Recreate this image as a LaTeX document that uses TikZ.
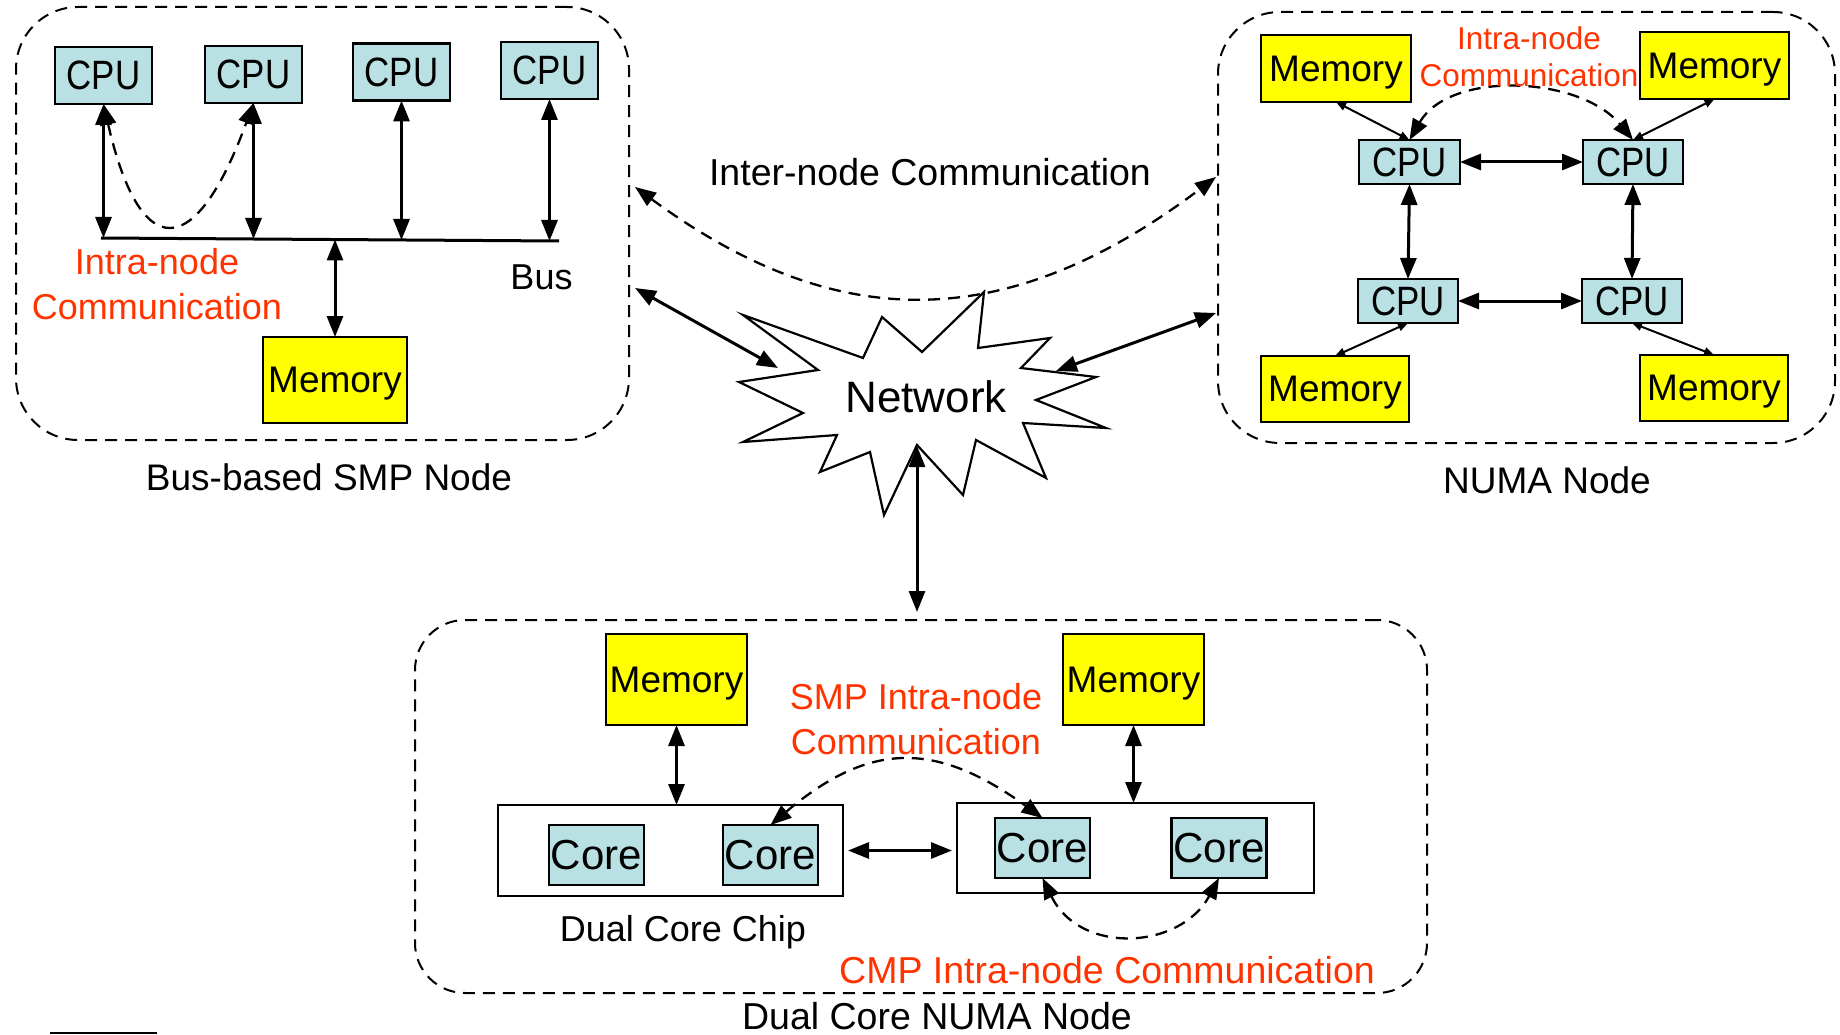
\documentclass[tikz,border=0pt]{standalone}
\usepackage{fontspec}
\setmainfont{Liberation Sans}
\newfontfamily\cpufont{Liberation Sans}[FakeStretch=0.85]
\usetikzlibrary{arrows.meta}
\definecolor{cpufill}{RGB}{185,224,227}
\definecolor{memfill}{RGB}{255,255,0}
\definecolor{commred}{RGB}{255,51,0}

\begin{document}
\begin{tikzpicture}[x=1pt,y=-1pt,
  every node/.style={inner sep=0pt, outer sep=0pt},
  unitbox/.style={draw, line width=2.5pt, inner sep=0pt, text depth=0pt},
  cpubox/.style={unitbox, fill=cpufill, font=\cpufont\fontsize{41}{41}\selectfont},
  membox/.style={unitbox, fill=memfill, font=\fontsize{37}{37}\selectfont},
  corebox/.style={unitbox, fill=cpufill, minimum width=95pt, minimum height=60pt, font=\fontsize{42}{42}\selectfont},
  chipbox/.style={draw, line width=2.5pt},
  groupbox/.style={draw, line width=2pt, dash pattern=on 12pt off 8pt, rounded corners=62pt},
  caption/.style={font=\fontsize{37}{37}\selectfont, text depth=0pt},
  redlabel/.style={text=commred, align=center},
  bigtip/.tip={Triangle[length=21pt,width=16pt]},
  smalltip/.tip={Triangle[length=10pt,width=8pt]},
  link/.style={line width=3pt, bigtip-bigtip},
  thinlink/.style={line width=2pt, smalltip-smalltip},
  commlink/.style={line width=2.3pt, dash pattern=on 12pt off 8pt, bigtip-bigtip},
]
\useasboundingbox (0,0) rectangle (1840,1035);

% ---------- Bus-based SMP node ----------
\node[groupbox, minimum width=613pt, minimum height=433pt] (smp) at (322.5,223.5) {};
\node[cpubox, minimum width=97pt, minimum height=57pt] (cpuA) at (103.5,75.5) {CPU};
\node[cpubox, minimum width=97pt, minimum height=57pt] (cpuB) at (253.5,74.5) {CPU};
\node[cpubox, minimum width=97pt, minimum height=57pt] (cpuC) at (401.5,72) {CPU};
\node[cpubox, minimum width=97pt, minimum height=57pt] (cpuD) at (549.5,70.5) {CPU};
\node[membox, minimum width=144pt, minimum height=86pt] (smpmem) at (335,380) {Memory};

\coordinate (busW) at (101,238);
\coordinate (busE) at (559,241);
\coordinate (tapA) at (103.5,238);
\coordinate (tapB) at (253.5,239);
\coordinate (tapC) at (401.5,240);
\coordinate (tapD) at (549.5,241);
\coordinate (tapM) at (335,239.5);
\draw[line width=3pt] (busW) -- (busE);
\draw[link] (cpuA.south) -- (tapA);
\draw[link] (cpuB.south) -- (tapB);
\draw[link] (cpuC.south) -- (tapC);
\draw[link] (cpuD.south) -- (tapD);
\draw[link] (tapM) -- (smpmem.north);
\draw[commlink] (cpuA.south) .. controls (140,263) and (195,263) .. (cpuB.south);

\node[redlabel, font=\fontsize{36}{45}\selectfont] (smpcomm) at (157,284.5) {Intra-node\\Communication};
\node[caption, font=\fontsize{36}{36}\selectfont] (buslabel) at (541.5,277) {Bus};
\node[caption] (smpname) at (329,477) {Bus-based SMP Node};

% ---------- NUMA node ----------
\node[groupbox, minimum width=617pt, minimum height=431pt] (numa) at (1526.5,227.5) {};
\node[membox, minimum width=150pt, minimum height=67pt] (memNW) at (1336,68.5) {Memory};
\node[membox, minimum width=149pt, minimum height=67pt] (memNE) at (1714.5,65.5) {Memory};
\node[membox, minimum width=148pt, minimum height=66pt] (memSW) at (1335,389) {Memory};
\node[membox, minimum width=148pt, minimum height=66pt] (memSE) at (1714,388) {Memory};
\node[cpubox, minimum width=101pt, minimum height=44pt] (cpuNW) at (1409.5,162) {CPU};
\node[cpubox, minimum width=100pt, minimum height=44pt] (cpuNE) at (1633,162) {CPU};
\node[cpubox, minimum width=100pt, minimum height=44pt] (cpuSW) at (1408,301) {CPU};
\node[cpubox, minimum width=100pt, minimum height=44pt] (cpuSE) at (1632,301) {CPU};

\draw[link] (cpuNW.east) -- (cpuNE.west);
\draw[link] (cpuSW.east) -- (cpuSE.west);
\draw[link] (cpuNW.south) -- (cpuSW.north);
\draw[link] (cpuNE.south) -- (cpuSE.north);
\draw[thinlink] (memNW.south) -- (cpuNW.north);
\draw[thinlink] (memNE.south) -- (cpuNE.north);
\draw[thinlink] (cpuSW.south) -- (memSW.north);
\draw[thinlink] (cpuSE.south) -- (memSE.north);
\draw[commlink] (cpuNW.north) .. controls (1450,70) and (1580,76) .. (cpuNE.north);

\node[redlabel, font=\fontsize{31.5}{37}\selectfont] (numacomm) at (1529,56.5) {Intra-node\\Communication};
\node[caption] (numaname) at (1547,480) {NUMA Node};

% ---------- Network ----------
\draw[line width=2.2pt, fill=white]
  (743,315) -- (818,370) -- (739,382) -- (803,413) -- (743,442) -- (837,435)
  -- (820,472) -- (870,452) -- (884,515) -- (917,445) -- (963,495) -- (976,440)
  -- (1046,478) -- (1023,423) -- (1106,428) -- (1036,400) -- (1096,377) -- (1021,368)
  -- (1050,338) -- (978,348) -- (984,292) -- (922,352) -- (882,317) -- (863,358) -- cycle;
\node[font=\fontsize{44}{44}\selectfont] (net) at (926,397) {Network};
\coordinate (netW) at (778,368);
\coordinate (netE) at (1056,371);
\coordinate (netS) at (917,446);

\coordinate (smpNet) at (635,288);
\coordinate (numaNet) at (1216,313);
\coordinate (dualNet) at (917,612);
\coordinate (smpComm) at (635,187);
\coordinate (numaComm) at (1216,177);

\draw[link] (smpNet) -- (netW);
\draw[link] (numaNet) -- (netE);
\draw[link] (netS) -- (dualNet);
\draw[commlink] (smpComm) .. controls (830,330) and (1000,340) .. (numaComm);
\node[caption, font=\fontsize{37.5}{37.5}\selectfont] (interlabel) at (930,172) {Inter-node Communication};

% ---------- Dual core NUMA node ----------
\node[groupbox, rounded corners=50pt, minimum width=1012pt, minimum height=373pt] (dual) at (921,806.5) {};
\node[membox, minimum width=141pt, minimum height=91pt] (memL) at (676.5,679.5) {Memory};
\node[membox, minimum width=141pt, minimum height=91pt] (memR) at (1133.5,679.5) {Memory};
\node[chipbox, minimum width=345pt, minimum height=91pt] (chipL) at (670.5,850.5) {};
\node[chipbox, minimum width=357pt, minimum height=90pt] (chipR) at (1135.5,848) {};
\node[corebox] (coreLL) at (596.5,855) {Core};
\node[corebox] (coreLR) at (770.5,855) {Core};
\node[corebox] (coreRL) at (1042.5,848) {Core};
\node[corebox] (coreRR) at (1219,848) {Core};

\draw[link] (memL.south) -- (memL.south |- chipL.north);
\draw[link] (memR.south) -- (memR.south |- chipR.north);
\draw[link] ([xshift=5pt]chipL.east) -- ([xshift=-5pt]chipL.east -| chipR.west);
\draw[commlink] (coreLR.north) .. controls (870,741) and (936,741) .. (coreRL.north);
\draw[commlink] (coreRL.south) .. controls (1080,955) and (1180,950) .. (coreRR.south);

\node[redlabel, font=\fontsize{36}{45}\selectfont] (smpintra) at (916,719.5) {SMP Intra-node\\Communication};
\node[caption, font=\fontsize{36}{36}\selectfont] (chiplabel) at (683,928) {Dual Core Chip};
\node[caption, text=commred, font=\fontsize{37.5}{37.5}\selectfont] (cmpintra) at (1107,970) {CMP Intra-node Communication};
\node[caption, font=\fontsize{37.5}{37.5}\selectfont] (dualname) at (937,1016) {Dual Core NUMA Node};

% short rule at the lower left edge
\coordinate (ruleW) at (50,1033);
\coordinate (ruleE) at (157,1033);
\draw[line width=2pt] (ruleW) -- (ruleE);
\end{tikzpicture}
\end{document}
